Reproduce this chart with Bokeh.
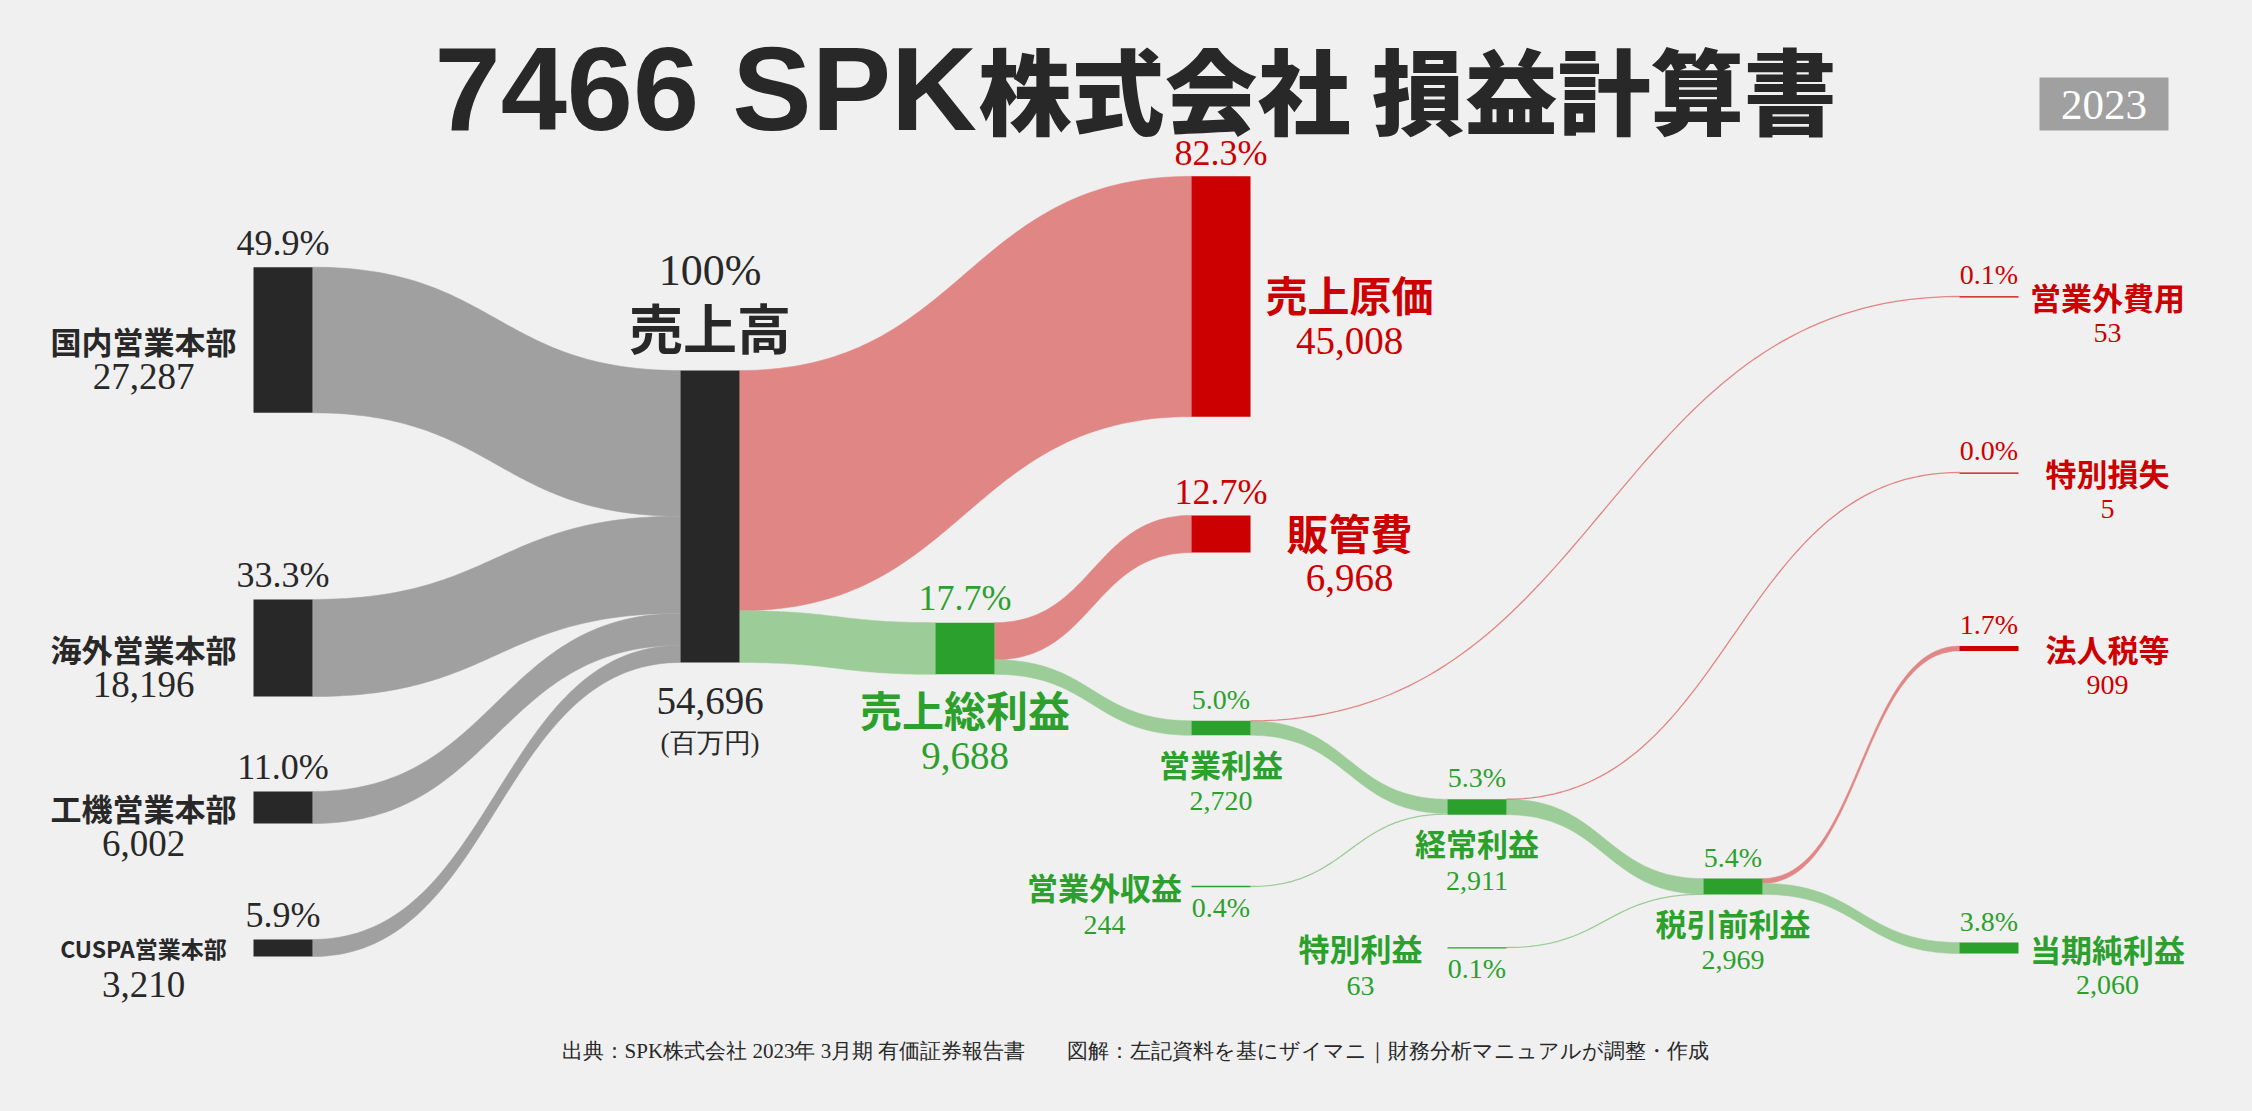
import numpy as np
from bokeh.plotting import figure
from bokeh.models import Range1d
from bokeh.core.properties import value
from bokeh.embed import file_html
from bokeh.resources import INLINE

# ---------------- data (百万円) ----------------
segment_names = ["国内営業本部", "海外営業本部", "工機営業本部", "CUSPA営業本部"]
segment_values = [27287, 18196, 6002, 3210]
revenue = 54696
cost_of_sales = 45008
sga = 6968
gross_profit = 9688
operating_income = 2720
non_op_income = 244
non_op_expense = 53
ordinary_income = 2911
extraordinary_income = 63
extraordinary_loss = 5
pretax_income = 2969
income_tax = 909
net_income = 2060

node_labels = {
    "rev": "売上高", "cogs": "売上原価", "sga": "販管費", "gp": "売上総利益",
    "op": "営業利益", "noi": "営業外収益", "noe": "営業外費用", "ord": "経常利益",
    "ei": "特別利益", "el": "特別損失", "pt": "税引前利益", "tax": "法人税等",
    "net": "当期純利益",
}
node_values = {
    "rev": revenue, "cogs": cost_of_sales, "sga": sga, "gp": gross_profit,
    "op": operating_income, "noi": non_op_income, "noe": non_op_expense,
    "ord": ordinary_income, "ei": extraordinary_income, "el": extraordinary_loss,
    "pt": pretax_income, "tax": income_tax, "net": net_income,
}
for i, (n, v) in enumerate(zip(segment_names, segment_values)):
    node_labels[f"seg{i}"] = n
    node_values[f"seg{i}"] = v

# ---------------- styles / layout ----------------
BG = "#f0f0f0"
DARK = "#282828"
RED = "#cc0000"
GREEN = "#2ca02c"
LINK_GRAY = "#a0a0a0"
LINK_RED = "#e08684"
LINK_GREEN = "#9ccd98"
SANS = "Noto Sans CJK JP"
SERIF = "Liberation Serif"

K = 292.0 / revenue          # pixels per 百万円
NODE_W = 59
COL_X = [253, 680, 935, 1191, 1447, 1703, 1959]

# node layout: (column, vertical centre, kind, colour)
layout = {
    "seg0": (0, 339.5, "seg", DARK), "seg1": (0, 647.5, "seg", DARK),
    "seg2": (0, 807, "seg", DARK), "seg3": (0, 947.5, "seg", DARK),
    "rev": (1, 516, "rev", DARK),
    "cogs": (3, 296, "big", RED), "sga": (3, 533.5, "big", RED),
    "gp": (2, 648, "gp", GREEN),
    "op": (3, 727.5, "mid", GREEN), "noi": (3, 886, "inl", GREEN),
    "ord": (4, 806.5, "mid", GREEN), "ei": (4, 947, "inl", GREEN),
    "pt": (5, 886, "mid", GREEN),
    "noe": (6, 296, "right", RED), "el": (6, 472, "right", RED),
    "tax": (6, 648, "right", RED), "net": (6, 947.5, "right", GREEN),
}

links = [
    ("seg0", "rev", segment_values[0], LINK_GRAY),
    ("seg1", "rev", segment_values[1], LINK_GRAY),
    ("seg2", "rev", segment_values[2], LINK_GRAY),
    ("seg3", "rev", segment_values[3], LINK_GRAY),
    ("rev", "cogs", cost_of_sales, LINK_RED),
    ("rev", "gp", gross_profit, LINK_GREEN),
    ("gp", "sga", sga, LINK_RED),
    ("gp", "op", gross_profit - sga, LINK_GREEN),
    ("op", "noe", non_op_expense, LINK_RED),
    ("op", "ord", operating_income - non_op_expense, LINK_GREEN),
    ("noi", "ord", non_op_income, LINK_GREEN),
    ("ord", "el", extraordinary_loss, LINK_RED),
    ("ord", "pt", ordinary_income - extraordinary_loss, LINK_GREEN),
    ("ei", "pt", extraordinary_income, LINK_GREEN),
    ("pt", "tax", income_tax, LINK_RED),
    ("pt", "net", pretax_income - income_tax, LINK_GREEN),
]

# ---------------- geometry ----------------
nodes = {}
for key, (col, cy, kind, color) in layout.items():
    h = node_values[key] * K
    x0 = COL_X[col]
    nodes[key] = dict(x0=x0, x1=x0 + NODE_W, y0=cy - h / 2, y1=cy + h / 2,
                      cy=cy, cx=x0 + NODE_W / 2, h=h, kind=kind, color=color)

out_off = {k: 0.0 for k in nodes}
in_off = {k: 0.0 for k in nodes}

W, H = 2236, 1095
p = figure(width=W, height=H, x_range=Range1d(0, W), y_range=Range1d(H, 0),
           output_backend="svg", toolbar_location=None, min_border=0,
           x_axis_location=None, y_axis_location=None)
p.grid.visible = False
p.outline_line_color = None
p.background_fill_color = BG
p.border_fill_color = BG

t = np.linspace(0, 1, 80)


def bez(xa, ya, xb, yb):
    xm = (xa + xb) / 2
    bx = (1 - t) ** 3 * xa + 3 * (1 - t) ** 2 * t * xm + 3 * (1 - t) * t ** 2 * xm + t ** 3 * xb
    by = (1 - t) ** 3 * ya + 3 * (1 - t) ** 2 * t * ya + 3 * (1 - t) * t ** 2 * yb + t ** 3 * yb
    return bx, by


band_xs, band_ys, band_c = [], [], []
thin_xs, thin_ys, thin_c, thin_w = [], [], [], []
for s, d, v, c in links:
    w = v * K
    S, D = nodes[s], nodes[d]
    sy0 = S["y0"] + out_off[s]
    ty0 = D["y0"] + in_off[d]
    out_off[s] += w
    in_off[d] += w
    if w >= 2:
        tx, tyy = bez(S["x1"], sy0, D["x0"], ty0)
        bx, byy = bez(S["x1"], sy0 + w, D["x0"], ty0 + w)
        band_xs.append(list(tx) + list(bx[::-1]))
        band_ys.append(list(tyy) + list(byy[::-1]))
        band_c.append(c)
    else:
        mx, my = bez(S["x1"], sy0 + w / 2, D["x0"], ty0 + w / 2)
        thin_xs.append(list(mx))
        thin_ys.append(list(my))
        thin_c.append(c)
        thin_w.append(max(w, 1.3))

p.patches(band_xs, band_ys, fill_color=band_c, line_color=band_c, line_width=0.5)
for xs, ys, c, w in zip(thin_xs, thin_ys, thin_c, thin_w):
    p.line(xs, ys, line_color=c, line_width=w)

# nodes
nx0 = [n["x0"] for n in nodes.values()]
nx1 = [n["x1"] for n in nodes.values()]
ny0 = [n["y0"] for n in nodes.values()]
ny1 = [n["y1"] if n["h"] >= 1.2 else n["y0"] + 1.2 for n in nodes.values()]
nc = [n["color"] for n in nodes.values()]
p.quad(left=nx0, right=nx1, top=ny0, bottom=ny1, fill_color=nc, line_color=None)


def txt(x, y, s, size, color, font, bold=False, align="center", baseline="middle"):
    p.text(x=[x], y=[y], text=[s], text_font=value(font),
           text_font_size=value(f"{size}px"),
           text_font_style="bold" if bold else "normal",
           text_color=color, text_align=align, text_baseline=baseline)


def pct(v):
    return f"{v / revenue * 100:.1f}%"


for key, n in nodes.items():
    v = node_values[key]
    name = node_labels[key]
    kind = n["kind"]
    tc = n["color"]
    if kind == "seg":
        txt(n["cx"], n["y0"] - 24, pct(v), 36, DARK, SERIF)
        txt(143, n["cy"], name, 23 if name.startswith("CUSPA") else 31, DARK, SANS, bold=True)
        txt(143, n["cy"] + 36, f"{v:,}", 37, DARK, SERIF)
    elif kind == "rev":
        txt(n["cx"], n["y0"] - 100, "100%", 44, DARK, SERIF)
        txt(n["cx"], n["y0"] - 44, name, 54, DARK, SANS, bold=True)
        txt(n["cx"], n["y1"] + 38, f"{v:,}", 39, DARK, SERIF)
        txt(n["cx"], n["y1"] + 80, "(百万円)", 27, DARK, SERIF)
    elif kind == "big":
        txt(n["cx"], n["y0"] - 23, pct(v), 36, tc, SERIF)
        txt(n["x1"] + 99, n["cy"] - 3, name, 42, tc, SANS, bold=True)
        txt(n["x1"] + 99, n["cy"] + 44, f"{v:,}", 39, tc, SERIF)
    elif kind == "gp":
        txt(n["cx"], n["y0"] - 25, pct(v), 36, tc, SERIF)
        txt(n["cx"], n["y1"] + 34, name, 42, tc, SANS, bold=True)
        txt(n["cx"], n["y1"] + 82, f"{v:,}", 39, tc, SERIF)
    elif kind == "mid":
        txt(n["cx"], n["y0"] - 21.5, pct(v), 28, tc, SERIF)
        txt(n["cx"], n["y1"] + 28, name, 31, tc, SANS, bold=True)
        txt(n["cx"], n["y1"] + 66, f"{v:,}", 28, tc, SERIF)
    elif kind == "inl":
        txt(n["x0"] - 87, n["cy"], name, 31, tc, SANS, bold=True)
        txt(n["x0"] - 87, n["cy"] + 38, f"{v:,}", 28, tc, SERIF)
        txt(n["cx"], n["cy"] + 21, pct(v), 28, tc, SERIF)
    elif kind == "right":
        txt(n["cx"], n["y0"] - 21.5, pct(v), 28, tc, SERIF)
        txt(n["x1"] + 89, n["cy"], name, 31, tc, SANS, bold=True)
        txt(n["x1"] + 89, n["cy"] + 36.5, f"{v:,}", 28, tc, SERIF)

# title
txt(434, 88, "7466 SPK", 119, DARK, "Liberation Sans", bold=True, align="left")
txt(978, 87, "株式会社 損益計算書", 93, DARK, "'Noto Sans CJK JP Black', 'Noto Sans CJK JP'",
    bold=True, align="left")

# year badge
p.quad(left=[2039], right=[2168], top=[77], bottom=[130], fill_color="#a0a0a0", line_color=None)
txt(2103.5, 104.5, "2023", 43, "white", SERIF)

# footer
txt(1135, 1050, "出典：SPK株式会社 2023年 3月期 有価証券報告書　　図解：左記資料を基にザイマニ｜財務分析マニュアルが調整・作成",
    21, DARK, SERIF)

html = file_html(p, INLINE)
html = html.replace("<head>", "<head><style>html,body{background:#f0f0f0;}</style>", 1)
open("out.html", "w").write(html)
